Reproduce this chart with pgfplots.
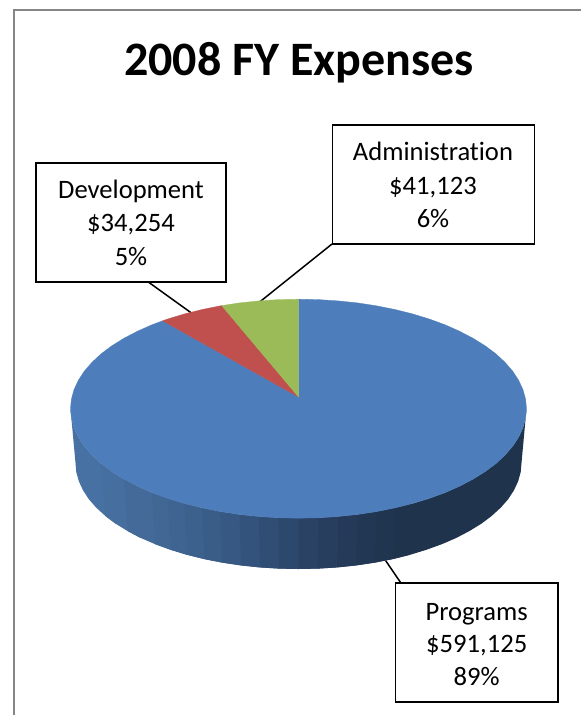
\documentclass[border=0pt]{standalone}
\usepackage{pgfplots}
\pgfplotsset{compat=1.18}
\usepackage{fontspec}
\setmainfont[Ligatures=CommonOff]{Carlito}
\definecolor{piBlue}{RGB}{77,126,187}
\definecolor{piRed}{RGB}{192,80,77}
\definecolor{piGreen}{RGB}{155,187,89}
\definecolor{frameGray}{RGB}{134,134,134}
\newcommand{\Strip}[4]{\addplot[fill={rgb,255:red,#1;green,#2;blue,#3},draw=none] coordinates {#4} -- cycle;}
\newcommand{\CallBox}[4]{\addplot[fill=white,draw=black,line width=1.6pt,line join=miter] coordinates {(#1,#2) (#3,#2) (#3,#4) (#1,#4)} -- cycle;}
\newcommand{\Lab}{\fontsize{26.6}{30}\selectfont}
\begin{document}
\begin{tikzpicture}
\begin{axis}[
  width=581pt,height=715pt,scale only axis,
  xmin=0,xmax=581,ymin=0,ymax=715,y dir=reverse,
  axis lines=none,clip=true
]
% page background
\addplot[fill=white,draw=none] coordinates {(0,0) (581,0) (581,715) (0,715)} -- cycle;
% chart frame
\addplot[draw=frameGray,line width=2pt,line join=miter] coordinates {(14,715) (14,10) (581,10)};
% leader lines
\addplot[draw=black,line width=1.5pt] coordinates {(148.3,282) (191,312.7)};
\addplot[draw=black,line width=1.5pt] coordinates {(332,244) (260,301.7)};
\addplot[draw=black,line width=1.5pt] coordinates {(385.7,560.7) (400.7,582.7)};
% side wall of the pie, shaded strip by strip; each strip runs under the next
\Strip{72}{113}{163}{(70.5,408.7) (71.4,418.2) (74.0,427.7) (78.3,437.0) (84.2,446.1) (91.9,455.0) (101.0,463.5) (111.7,471.5) (115.8,523.8) (105.4,516) (96.4,507.8) (88.9,499.3) (83.1,490.4) (78.9,481.4) (76.3,472.2) (75.5,463)}
\Strip{70}{110}{158}{(101.0,463.5) (111.7,471.5) (123.9,479.1) (137.3,486.1) (140.8,538) (127.7,531.1) (115.8,523.8) (105.4,516)}
\Strip{67}{106}{153}{(123.9,479.1) (137.3,486.1) (151.9,492.6) (167.7,498.4) (170.6,549.8) (155.2,544.2) (140.8,538) (127.7,531.1)}
\Strip{65}{103}{149}{(151.9,492.6) (167.7,498.4) (184.5,503.5) (187,554.8) (170.6,549.8) (155.2,544.2)}
\Strip{63}{100}{145}{(167.7,498.4) (184.5,503.5) (202.1,507.9) (204.3,559.1) (187,554.8) (170.6,549.8)}
\Strip{60}{97}{140}{(184.5,503.5) (202.1,507.9) (220.5,511.6) (222.2,562.6) (204.3,559.1) (187,554.8)}
\Strip{58}{93}{136}{(202.1,507.9) (220.5,511.6) (239.5,514.5) (240.8,565.4) (222.2,562.6) (204.3,559.1)}
\Strip{55}{88}{130}{(220.5,511.6) (239.5,514.5) (258.9,516.5) (259.8,567.4) (240.8,565.4) (222.2,562.6)}
\Strip{52}{83}{124}{(239.5,514.5) (258.9,516.5) (278.6,517.8) (279.1,568.6) (259.8,567.4) (240.8,565.4)}
\Strip{48}{77}{116}{(258.9,516.5) (278.6,517.8) (298.5,518.2) (298.5,569) (279.1,568.6) (259.8,567.4)}
\Strip{45}{72}{109}{(278.6,517.8) (298.5,518.2) (318.4,517.8) (317.9,568.6) (298.5,569) (279.1,568.6)}
\Strip{42}{67}{101}{(298.5,518.2) (318.4,517.8) (338.1,516.5) (337.2,567.4) (317.9,568.6) (298.5,569)}
\Strip{39}{62}{94}{(318.4,517.8) (338.1,516.5) (357.5,514.5) (356.2,565.4) (337.2,567.4) (317.9,568.6)}
\Strip{36}{58}{88}{(338.1,516.5) (357.5,514.5) (376.5,511.6) (374.8,562.6) (356.2,565.4) (337.2,567.4)}
\Strip{34}{55}{83}{(357.5,514.5) (376.5,511.6) (394.9,507.9) (392.7,559.1) (374.8,562.6) (356.2,565.4)}
\Strip{32}{53}{80}{(376.5,511.6) (394.9,507.9) (412.5,503.5) (410,554.8) (392.7,559.1) (374.8,562.6)}
\Strip{31}{51}{77}{(394.9,507.9) (412.5,503.5) (429.3,498.4) (445.1,492.6) (459.7,486.1) (473.1,479.1) (485.3,471.5) (496.0,463.5) (505.1,455.0) (512.8,446.1) (518.7,437.0) (523.0,427.7) (525.6,418.2) (526.5,408.7) (521.5,463) (520.7,472.2) (518.1,481.4) (513.9,490.4) (508.1,499.3) (500.6,507.8) (491.6,516) (481.2,523.8) (469.3,531.1) (456.2,538) (441.8,544.2) (426.4,549.8) (410,554.8) (392.7,559.1)}
% Programs: 89%
\addplot[fill=piBlue,draw=piBlue,line width=0.3pt] coordinates {
 (298.5,397) (162.7,320.8) (151.9,324.8) (137.3,331.3) (123.9,338.3) (111.7,345.9) (101.0,353.9) (91.9,362.4) (84.2,371.3) (78.3,380.4) (74.0,389.7) (71.4,399.2) (70.5,408.7)
 (71.4,418.2) (74.0,427.7) (78.3,437.0) (84.2,446.1) (91.9,455.0) (101.0,463.5) (111.7,471.5) (123.9,479.1) (137.3,486.1) (151.9,492.6) (167.7,498.4) (184.5,503.5) (202.1,507.9) (220.5,511.6) (239.5,514.5) (258.9,516.5) (278.6,517.8) (298.5,518.2)
 (318.4,517.8) (338.1,516.5) (357.5,514.5) (376.5,511.6) (394.9,507.9) (412.5,503.5) (429.3,498.4) (445.1,492.6) (459.7,486.1) (473.1,479.1) (485.3,471.5) (496.0,463.5) (505.1,455.0) (512.8,446.1) (518.7,437.0) (523.0,427.7) (525.6,418.2) (526.5,408.7)
 (525.6,399.2) (523.0,389.7) (518.7,380.4) (512.8,371.3) (505.1,362.4) (496.0,353.9) (485.3,345.9) (473.1,338.3) (459.7,331.3) (445.1,324.8) (429.3,319.0) (412.5,313.9) (394.9,309.5) (376.5,305.8) (357.5,302.9) (338.1,300.9) (318.4,299.6) (298.5,299.2)
} -- cycle;
% Development: 5%
\addplot[fill=piRed,draw=piRed,line width=0.3pt] coordinates {(298.5,397) (221.7,305.6) (202.1,309.5) (184.5,313.9) (167.7,319.0) (162.7,320.8)} -- cycle;
% Administration: 6%
\addplot[fill=piGreen,draw=piGreen,line width=0.3pt] coordinates {(298.5,397) (298.5,299.2) (278.6,299.6) (258.9,300.9) (239.5,302.9) (221.7,305.6)} -- cycle;
% callout boxes
\CallBox{35.7}{162.7}{226}{282}
\CallBox{332.3}{125}{534.5}{243.7}
\CallBox{395.3}{582.7}{557.7}{702}
% text
\node[anchor=base,inner sep=0pt,font=\fontsize{48}{56}\selectfont\bfseries] at (axis cs:299,75) {2008 FY Expenses};
\node[anchor=base,inner sep=0pt,font=\Lab] at (axis cs:131,198) {Development};
\node[anchor=base,inner sep=0pt,font=\Lab] at (axis cs:131,231.7) {\$34,254};
\node[anchor=base,inner sep=0pt,font=\Lab] at (axis cs:131,265) {5\%};
\node[anchor=base,inner sep=0pt,font=\Lab] at (axis cs:433,160.7) {Administration};
\node[anchor=base,inner sep=0pt,font=\Lab] at (axis cs:433,194.5) {\$41,123};
\node[anchor=base,inner sep=0pt,font=\Lab] at (axis cs:433,227.5) {6\%};
\node[anchor=base,inner sep=0pt,font=\Lab] at (axis cs:476.7,620) {Programs};
\node[anchor=base,inner sep=0pt,font=\Lab] at (axis cs:476.7,652) {\$591,125};
\node[anchor=base,inner sep=0pt,font=\Lab] at (axis cs:476.7,685) {89\%};
\end{axis}
\end{tikzpicture}
\end{document}
